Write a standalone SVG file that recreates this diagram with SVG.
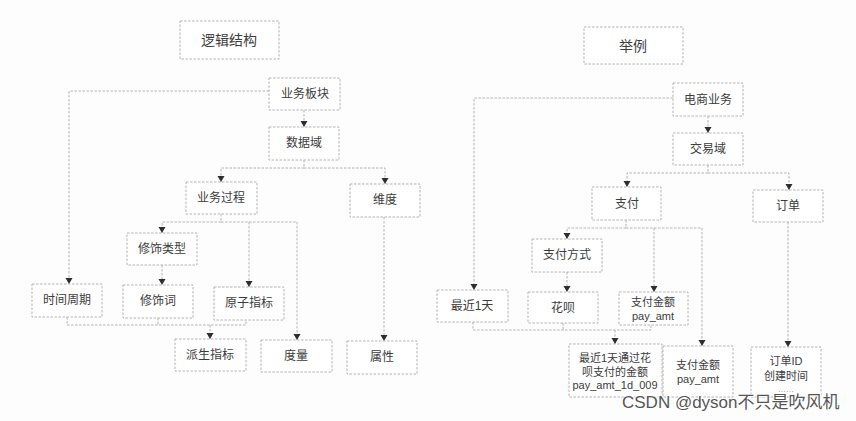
<svg xmlns="http://www.w3.org/2000/svg" width="856" height="421" viewBox="0 0 856 421">
<style>
.bg{fill:#fdfdfd}
.box{fill:#ffffff;stroke:#ababab;stroke-width:0.9;stroke-dasharray:2.5 1.5}
.ln{fill:none;stroke:#acacac;stroke-width:0.9;stroke-dasharray:2.5 1.5}
.t{font-family:"Liberation Sans","Noto Sans CJK SC",sans-serif;font-size:12px;fill:#3c3c3c;text-anchor:middle;dominant-baseline:central}
.tt{font-size:14px}
.s{font-size:11px}
.d{font-size:8px;fill:#777777}
.wm{font-family:"Liberation Sans","Noto Sans CJK SC",sans-serif;font-size:17px;fill:#555555;stroke:#ffffff;stroke-width:2px;paint-order:stroke}
</style>
<defs>
<marker id="ah" markerUnits="userSpaceOnUse" markerWidth="6" markerHeight="8" viewBox="0 -4 6 8" refX="6" refY="0" orient="auto">
<path d="M0,-3.5 L6,0 L0,3.5 z" fill="#2e2e2e"/>
</marker>
</defs>
<rect class="bg" x="0" y="0" width="856" height="421"/>

<g id="connectors">
<path class="ln" d="M269,91 H69 V284" marker-end="url(#ah)"/>
<path class="ln" d="M304,110 V127" marker-end="url(#ah)"/>
<path class="ln" d="M304,160 V168 H221 V182" marker-end="url(#ah)"/>
<path class="ln" d="M304,168 H385 V184" marker-end="url(#ah)"/>
<path class="ln" d="M221,214 V222 H162 V233" marker-end="url(#ah)"/>
<path class="ln" d="M221,222 H249 V287" marker-end="url(#ah)"/>
<path class="ln" d="M249,222 H297 V340" marker-end="url(#ah)"/>
<path class="ln" d="M162,265 V285" marker-end="url(#ah)"/>
<path class="ln" d="M384,217 V341" marker-end="url(#ah)"/>
<path class="ln" d="M67,317 V325 H246 V320"/>
<path class="ln" d="M158,318 V325"/>
<path class="ln" d="M210,325 V339" marker-end="url(#ah)"/>
<path class="ln" d="M673,98 H474 V290" marker-end="url(#ah)"/>
<path class="ln" d="M708,116 V133" marker-end="url(#ah)"/>
<path class="ln" d="M708,165 V173 H627 V187" marker-end="url(#ah)"/>
<path class="ln" d="M708,173 H789 V190" marker-end="url(#ah)"/>
<path class="ln" d="M626,220 V228 H567 V239" marker-end="url(#ah)"/>
<path class="ln" d="M626,228 H654 V292" marker-end="url(#ah)"/>
<path class="ln" d="M654,228 H702 V346" marker-end="url(#ah)"/>
<path class="ln" d="M567,272 V292" marker-end="url(#ah)"/>
<path class="ln" d="M473,322 V330 H651 V325"/>
<path class="ln" d="M563,323 V330"/>
<path class="ln" d="M615,330 V344" marker-end="url(#ah)"/>
<path class="ln" d="M788,222 V347" marker-end="url(#ah)"/>
</g>

<g id="n-title-left"><rect class="box" x="180" y="21" width="99" height="38"/><text class="t tt" x="229" y="40">逻辑结构</text></g>
<g id="n-ywbk"><rect class="box" x="269" y="78" width="71" height="32"/><text class="t" x="305" y="94">业务板块</text></g>
<g id="n-sjy"><rect class="box" x="269" y="127" width="70" height="33"/><text class="t" x="304" y="143">数据域</text></g>
<g id="n-ywgc"><rect class="box" x="186" y="182" width="71" height="32"/><text class="t" x="221" y="198">业务过程</text></g>
<g id="n-wd"><rect class="box" x="350" y="184" width="70" height="33"/><text class="t" x="385" y="200">维度</text></g>
<g id="n-xslx"><rect class="box" x="127" y="233" width="70" height="32"/><text class="t" x="162" y="249">修饰类型</text></g>
<g id="n-sjzq"><rect class="box" x="32" y="284" width="70" height="33"/><text class="t" x="67" y="300">时间周期</text></g>
<g id="n-xsc"><rect class="box" x="123" y="285" width="70" height="33"/><text class="t" x="158" y="301">修饰词</text></g>
<g id="n-yzzb"><rect class="box" x="214" y="287" width="70" height="33"/><text class="t" x="249" y="303">原子指标</text></g>
<g id="n-pszb"><rect class="box" x="175" y="339" width="71" height="32"/><text class="t" x="210" y="355">派生指标</text></g>
<g id="n-dl"><rect class="box" x="261" y="340" width="71" height="32"/><text class="t" x="296" y="356">度量</text></g>
<g id="n-sx"><rect class="box" x="347" y="341" width="70" height="33"/><text class="t" x="382" y="357">属性</text></g>

<g id="n-title-right"><rect class="box" x="584" y="27" width="99" height="37"/><text class="t tt" x="633" y="46">举例</text></g>
<g id="n-dsyw"><rect class="box" x="673" y="83" width="70" height="33"/><text class="t" x="708" y="100">电商业务</text></g>
<g id="n-jyy"><rect class="box" x="673" y="133" width="70" height="32"/><text class="t" x="708" y="149">交易域</text></g>
<g id="n-zf"><rect class="box" x="592" y="187" width="69" height="33"/><text class="t" x="627" y="204">支付</text></g>
<g id="n-dd"><rect class="box" x="753" y="190" width="70" height="32"/><text class="t" x="788" y="206">订单</text></g>
<g id="n-zffs"><rect class="box" x="532" y="239" width="70" height="33"/><text class="t" x="567" y="255">支付方式</text></g>
<g id="n-zj1t"><rect class="box" x="437" y="290" width="71" height="32"/><text class="t" x="472" y="306">最近1天</text></g>
<g id="n-hb"><rect class="box" x="528" y="292" width="70" height="31"/><text class="t" x="563" y="308">花呗</text></g>
<g id="n-zfje1"><rect class="box" x="619" y="292" width="69" height="33"/><text class="t s" x="653" y="302">支付金额</text><text class="t s" x="653" y="316">pay_amt</text></g>
<g id="n-zj1thb"><rect class="box" x="569" y="344" width="93" height="53"/><text class="t s" x="615" y="358">最近1天通过花</text><text class="t s" x="615" y="371.5">呗支付的金额</text><text class="t s" x="615" y="385">pay_amt_1d_009</text></g>
<g id="n-zfje2"><rect class="box" x="663" y="346" width="70" height="51"/><text class="t s" x="698" y="365">支付金额</text><text class="t s" x="698" y="379">pay_amt</text></g>
<g id="n-ddid"><rect class="box" x="751" y="347" width="70" height="50"/><text class="t s" x="786" y="361">订单ID</text><text class="t s" x="786" y="376">创建时间</text><text class="t d" x="786" y="389">……</text></g>

<text class="wm" x="622" y="408">CSDN @dyson不只是吹风机</text>
</svg>
